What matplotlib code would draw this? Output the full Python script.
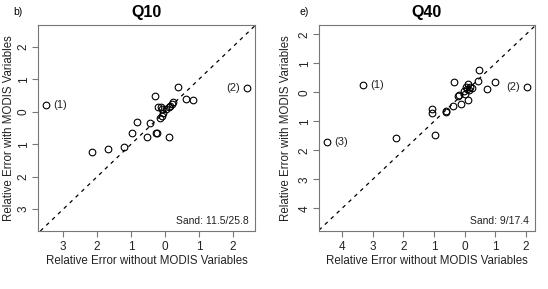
import matplotlib
matplotlib.use("Agg")
import matplotlib.pyplot as plt

plt.rcParams['font.family'] = ['Liberation Sans', 'DejaVu Sans']

# ---- data: panel b) Q10 ----
q10_x = [-3.51, 2.40, 0.39, -0.29, 0.62, 0.81, -0.21, -0.13, -0.10, 0.24, 0.20, 0.15, 0.11,
         0.02, -0.05, -0.10, -0.14, -0.83, -0.44, -0.97, -0.52, -0.26, -0.23, 0.11,
         -1.20, -2.16, -1.67]
q10_y = [0.21, 0.72, 0.77, 0.48, 0.38, 0.35, 0.14, 0.14, 0.07, 0.31, 0.25, 0.18, 0.14,
         0.08, -0.04, -0.14, -0.20, -0.31, -0.34, -0.65, -0.78, -0.65, -0.65, -0.78,
         -1.09, -1.23, -1.15]

# ---- data: panel e) Q40 ----
q40_x = [-3.30, 2.02, -4.48, 0.47, -0.35, 0.42, 0.98, 0.74, 0.12, 0.03, 0.17, 0.25, 0.07,
         -0.01, 0.14, 0.02, -0.18, 0.11, -0.11, -0.37, -0.62, -0.60, -1.06, -1.06,
         -0.98, -2.23, -0.21]
q40_y = [0.24, 0.17, -1.70, 0.77, 0.34, 0.40, 0.37, 0.12, 0.28, 0.19, 0.19, 0.14, 0.10,
         0.04, 0.08, -0.07, -0.09, -0.28, -0.39, -0.46, -0.67, -0.66, -0.58, -0.72,
         -1.48, -1.59, -0.12]

q10_xticks = [-3, -2, -1, 0, 1, 2]
q10_xticklabels = ["3", "2", "1", "0", "1", "2"]
q10_yticks = [2, 1, 0, -1, -2, -3]
q10_yticklabels = ["2", "1", "0", "1", "2", "3"]
q40_xticks = [-4, -3, -2, -1, 0, 1, 2]
q40_xticklabels = ["4", "3", "2", "1", "0", "1", "2"]
q40_yticks = [2, 1, 0, -1, -2, -3, -4]
q40_yticklabels = ["2", "1", "0", "1", "2", "3", "4"]

W, H = 548, 289
fig = plt.figure(figsize=(W / 100, H / 100), dpi=100)
TXT = '#222222'

def panel(px, x, y, xlim, ylim, xt, xtl, yt, ytl, title, tag, tagx, ylabx, sand, annots):
    l, t, r, b = px
    ax = fig.add_axes([l / W, 1 - b / H, (r - l) / W, (b - t) / H])
    ax.plot(x, y, 'o', mfc='none', mec='black', ms=4.8, mew=0.8, clip_on=False)
    ax.axline((0, 0), slope=1, color='black', ls=(0, (3, 3.5)), lw=0.9)
    ax.set_xlim(*xlim)
    ax.set_ylim(*ylim)
    ax.set_xticks(xt)
    ax.set_xticklabels(xtl)
    ax.set_yticks(yt)
    ax.set_yticklabels(ytl, rotation=90, va='center')
    for s in ax.spines.values():
        s.set_color('#777777')
        s.set_linewidth(0.8)
    ax.tick_params(axis='both', length=4, width=0.8, color='#777777', labelsize=8.5,
                   labelcolor=TXT)
    ax.tick_params(axis='y', pad=2)
    ax.tick_params(axis='x', pad=3)
    cx = (l + r) / 2
    fig.text(cx / W, 1 - 12 / H, title, ha='center', va='center', fontsize=11.5,
             fontweight='bold')
    fig.text(cx / W, 1 - 261 / H, "Relative Error without MODIS Variables",
             ha='center', va='center', fontsize=8.3, color=TXT)
    fig.text(ylabx / W, 1 - ((t + b) / 2) / H, "Relative Error with MODIS Variables",
             ha='center', va='center', rotation=90, fontsize=8.3, color=TXT)
    fig.text(tagx / W, 1 - 12 / H, tag, ha='left', va='center', fontsize=7.5)
    ax.text(0.97, 0.025, sand, transform=ax.transAxes, ha='right', va='bottom',
            fontsize=7.5, color=TXT)
    for lab, (i, side) in annots.items():
        off = 5 if side == 'r' else -5
        ax.annotate(lab, (x[i], y[i]), xytext=(off, 0), textcoords='offset points',
                    ha='left' if side == 'r' else 'right', va='center', fontsize=8,
                    color=TXT)
    return ax

panel((38, 25, 255, 231), q10_x, q10_y, (-3.74, 2.65), (-3.67, 2.67),
      q10_xticks, q10_xticklabels, q10_yticks, q10_yticklabels, "Q10", "b)", 13, 9,
      "Sand: 11.5/25.8", {"(1)": (0, 'r'), "(2)": (1, 'l')})
panel((319, 25, 535, 231), q40_x, q40_y, (-4.75, 2.29), (-4.78, 2.32),
      q40_xticks, q40_xticklabels, q40_yticks, q40_yticklabels, "Q40", "e)", 299, 286,
      "Sand: 9/17.4", {"(1)": (0, 'r'), "(2)": (1, 'l'), "(3)": (2, 'r')})

fig.savefig("out.png", dpi=100)
